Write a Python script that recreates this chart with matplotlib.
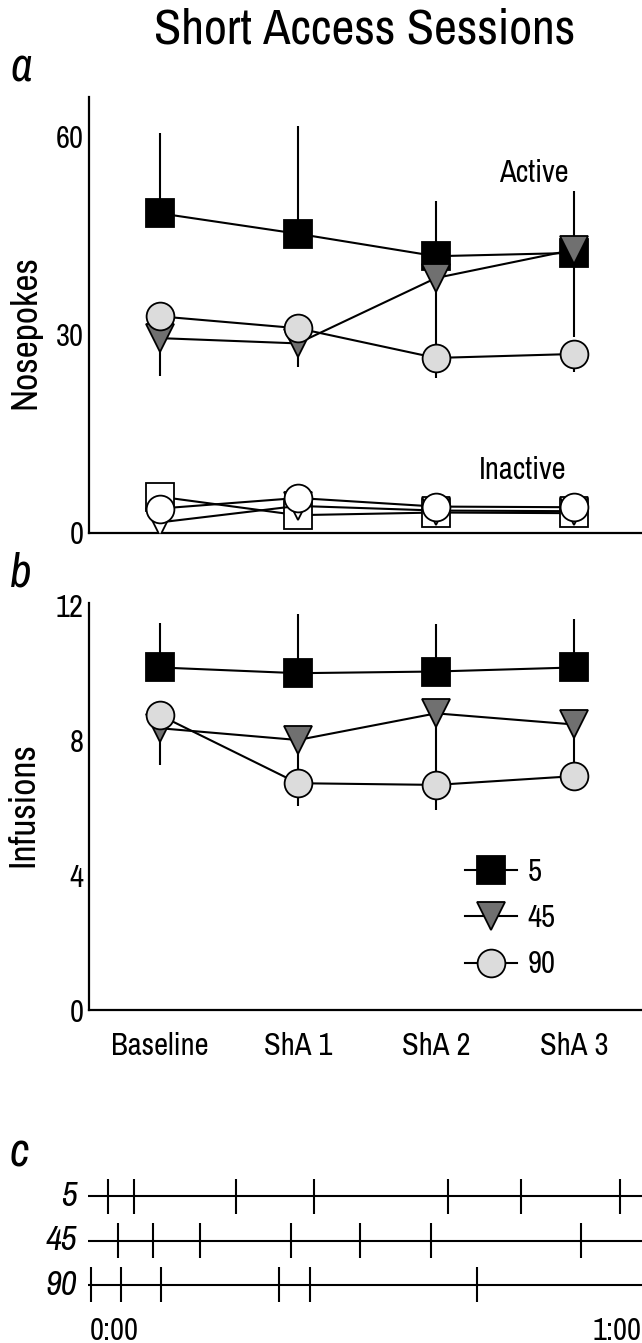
import numpy as np
import matplotlib
matplotlib.use("Agg")
import matplotlib.pyplot as plt

plt.rcParams["font.family"] = ["Archivo Narrow", "Liberation Sans", "DejaVu Sans"]

SESSIONS = ["Baseline", "ShA 1", "ShA 2", "ShA 3"]
GROUPS = ["5", "45", "90"]

# panel a, active nosepokes (mean, upper err, lower err)
act_5 = [48.4, 45.3, 41.9, 42.4]
act_5_up = [12.2, 16.3, 8.3, 9.3]
act_5_dn = [0, 0, 0, 0]
act_45 = [29.5, 28.7, 38.6, 42.9]
act_45_up = [0, 0, 0, 0]
act_45_dn = [5.8, 3.5, 11.1, 13.2]
act_90 = [32.8, 31.0, 26.5, 27.1]
act_90_up = [0, 0, 0, 0]
act_90_dn = [0, 0, 3.1, 2.7]

# panel a, inactive nosepokes
inact_5 = [5.5, 2.7, 3.1, 3.0]
inact_45 = [1.6, 4.1, 3.4, 3.3]
inact_90 = [3.7, 5.3, 4.0, 3.9]

# panel b, infusions
inf_5 = [10.15, 9.98, 10.03, 10.15]
inf_5_up = [1.33, 1.75, 1.41, 1.45]
inf_5_dn = [0, 0, 0, 0]
inf_45 = [8.35, 8.0, 8.79, 8.46]
inf_45_up = [0, 0, 0, 0]
inf_45_dn = [1.09, 1.0, 2.2, 1.2]
inf_90 = [8.74, 6.72, 6.67, 6.93]
inf_90_up = [0, 0, 0, 0]
inf_90_dn = [0, 0.68, 0.74, 0.43]

# panel c, infusion times (min) in an example session
times_5 = [1.9, 4.8, 15.9, 24.4, 38.9, 46.8, 57.6]
times_45 = [3.0, 6.8, 12.0, 21.9, 29.3, 37.1, 53.4]
times_90 = [0.1, 3.4, 7.7, 20.5, 23.9, 42.1]

MARK = {"5": "s", "45": "v", "90": "o"}
FILL = {"5": "black", "45": "#707070", "90": "#dcdcdc"}
MS = 20
LW = 1.5
FS = 22

W, H = 642, 1343
fig = plt.figure(figsize=(W / 100, H / 100), dpi=100)


def ax_px(x0, y0, x1, y1):
    return fig.add_axes([x0 / W, 1 - y1 / H, (x1 - x0) / W, (y1 - y0) / H])


def style(ax):
    for s in ["top", "right"]:
        ax.spines[s].set_visible(False)
    for s in ["left", "bottom"]:
        ax.spines[s].set_linewidth(1.6)
    ax.tick_params(length=0, labelsize=FS, pad=8)
    ax.tick_params(axis="y", pad=4)


def series(ax, y, up, dn, g, fill=None):
    x = np.arange(len(y))
    y = np.asarray(y)
    ax.vlines(x, y, y + np.asarray(up), color="black", lw=LW, zorder=2)
    ax.vlines(x, y - np.asarray(dn), y, color="black", lw=LW, zorder=2)
    return ax.plot(x, y, marker=MARK[g], ms=MS, mfc=fill or FILL[g], mec="black",
                   mew=1.3, color="black", lw=LW, zorder=3, label=g)[0]


# ---- panel a
a = ax_px(89, 97, 642, 533)
style(a)
zero = [0, 0, 0, 0]
series(a, act_5, act_5_up, act_5_dn, "5")
series(a, act_45, act_45_up, act_45_dn, "45")
series(a, act_90, act_90_up, act_90_dn, "90")
series(a, inact_5, zero, zero, "5", "white")
series(a, inact_45, zero, zero, "45", "white")
series(a, inact_90, zero, zero, "90", "white")
a.set_xlim(-0.51, 3.49)
a.set_ylim(0, 66)
a.set_yticks([0, 30, 60])
a.set_xticks([])
a.set_ylabel("Nosepokes", fontsize=27)
a.yaxis.set_label_coords(-0.086, 0.46)
a.text(2.71, 54.5, "Active", fontsize=FS, ha="center", va="center")
a.text(2.63, 9.6, "Inactive", fontsize=FS, ha="center", va="center")

# ---- panel b
b = ax_px(89, 603, 642, 1010)
style(b)
h5 = series(b, inf_5, inf_5_up, inf_5_dn, "5")
h45 = series(b, inf_45, inf_45_up, inf_45_dn, "45")
h90 = series(b, inf_90, inf_90_up, inf_90_dn, "90")
b.set_xlim(-0.51, 3.49)
b.set_ylim(0, 12.06)
b.set_yticks([0, 4, 8, 12])
b.set_xticks(range(len(SESSIONS)))
b.set_xticklabels(SESSIONS)
b.tick_params(axis="x", pad=16)
b.set_ylabel("Infusions", fontsize=27)
b.yaxis.set_label_coords(-0.09, 0.504)
b.legend(handles=[h5, h45, h90], loc="center left", bbox_to_anchor=(0.652, 0.226),
         frameon=False, fontsize=FS, handlelength=1.7, handletextpad=0.35,
         labelspacing=0.6, borderpad=0, numpoints=1)

# ---- panel c
c = ax_px(88, 1170, 642, 1311)
c.set_axis_off()
c.set_xlim(-0.22, 60)
c.set_ylim(2.6, -0.6)
for r, (g, t) in enumerate(zip(GROUPS, [times_5, times_45, times_90])):
    c.hlines(r, -0.22, 60, color="black", lw=LW, clip_on=False)
    c.vlines(t, r - 0.39, r + 0.39, color="black", lw=LW)
    c.text(-1.4, r, g, fontsize=25, style="italic", ha="right", va="center")
c.text(0, 3.05, "0:00", fontsize=FS, ha="left", va="center")
c.text(60, 3.05, "1:00", fontsize=FS, ha="right", va="center")

# titles and panel letters
fig.text(365 / W, 1 - 30 / H, "Short Access Sessions", fontsize=36, ha="center", va="center")
for letter, ypx in [("a", 68), ("b", 573), ("c", 1153)]:
    fig.text(10 / W, 1 - ypx / H, letter, fontsize=34, style="italic", ha="left", va="center")

fig.savefig("out.png", dpi=100)
